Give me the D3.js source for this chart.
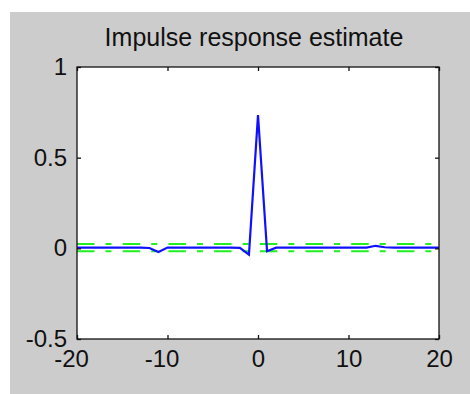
<!DOCTYPE html>
<html>
<head>
<meta charset="utf-8">
<script src="https://cdn.jsdelivr.net/npm/d3@7/dist/d3.min.js"></script>
<style>
  html, body { margin: 0; padding: 0; background: #ffffff; }
  svg { display: block; }
  text { font-family: "Liberation Sans", Arial, sans-serif; fill: #111; }
</style>
</head>
<body>
<script>
// ---- data ----
const titleText = "Impulse response estimate";
const lags = [-20,-19,-18,-17,-16,-15,-14,-13,-12,-11,-10,-9,-8,-7,-6,-5,-4,-3,-2,-1,0,
              1,2,3,4,5,6,7,8,9,10,11,12,13,14,15,16,17,18,19,20];
const impulse = [0.004,0.004,0.004,0.004,0.004,0.004,0.004,0.004,0.002,-0.020,0.004,
                 0.004,0.004,0.004,0.004,0.004,0.004,0.004,0.003,-0.035,0.735,
                 -0.016,0.004,0.004,0.004,0.004,0.004,0.004,0.004,0.004,0.004,
                 0.004,0.004,0.014,0.006,0.004,0.004,0.004,0.004,0.004,0.004];
const confUpper = 0.024;
const confLower = -0.016;
const xTicks = [-20, -10, 0, 10, 20];
const yTicks = [-0.5, 0, 0.5, 1];
const xDomain = [-20, 20];
const yDomain = [-0.5, 1];

// ---- layout ----
const W = 470, H = 394;
const svg = d3.select("body").append("svg").attr("width", W).attr("height", H);
svg.append("rect").attr("x", 10).attr("y", 12).attr("width", W - 10).attr("height", H - 12)
   .attr("fill", "#cccccc");

const plot = { left: 77, right: 439, top: 67, bottom: 339 };
const x = d3.scaleLinear().domain(xDomain).range([plot.left, plot.right]);
const y = d3.scaleLinear().domain(yDomain).range([plot.bottom, plot.top]);

svg.append("rect").attr("x", plot.left).attr("y", plot.top)
   .attr("width", plot.right - plot.left).attr("height", plot.bottom - plot.top)
   .attr("fill", "#ffffff");

// confidence lines
svg.append("clipPath").attr("id", "clip").append("rect")
   .attr("x", plot.left).attr("y", plot.top)
   .attr("width", plot.right - plot.left).attr("height", plot.bottom - plot.top);

[confUpper, confLower].forEach(v => {
  svg.append("line")
    .attr("x1", x(xDomain[0])).attr("x2", x(xDomain[1]))
    .attr("y1", y(v)).attr("y2", y(v))
    .attr("stroke", "#22ee22").attr("stroke-width", 2.2)
    .attr("stroke-dasharray", "17.5,11,6,11.2")
    .attr("clip-path", "url(#clip)");
});

// impulse line
const pts = lags.map((l, i) => [l, impulse[i]]);
svg.append("path").datum(pts)
  .attr("d", d3.line().x(d => x(d[0])).y(d => y(d[1])))
  .attr("fill", "none").attr("stroke", "#1010ff").attr("stroke-width", 2.2)
  .attr("stroke-linejoin", "miter");

// axes
const tickLen = 4;
const fontSize = 24;
const gB = svg.append("g").attr("transform", `translate(0,${plot.bottom})`)
  .call(d3.axisBottom(x).tickValues(xTicks).tickSizeInner(-tickLen).tickSizeOuter(0).tickFormat(d3.format("d")));
const gT = svg.append("g").attr("transform", `translate(0,${plot.top})`)
  .call(d3.axisTop(x).tickValues(xTicks).tickSizeInner(-tickLen).tickSizeOuter(0).tickFormat(""));
const gL = svg.append("g").attr("transform", `translate(${plot.left},0)`)
  .call(d3.axisLeft(y).tickValues(yTicks).tickSizeInner(-tickLen).tickSizeOuter(0).tickFormat(d3.format("")));
const gR = svg.append("g").attr("transform", `translate(${plot.right},0)`)
  .call(d3.axisRight(y).tickValues(yTicks).tickSizeInner(-tickLen).tickSizeOuter(0).tickFormat(""));

[gB, gT, gL, gR].forEach(g => {
  g.select(".domain").remove();
  g.selectAll(".tick line").attr("stroke", "#111").attr("stroke-width", 1.3);
  g.selectAll("text").style("font-family", '"Liberation Sans", Arial, sans-serif')
    .style("font-size", fontSize + "px").attr("fill", "#111");
});

gB.selectAll(".tick text")
  .attr("y", 0).attr("dy", null)
  .attr("transform", "translate(0,28)")
  .attr("x", d => d < 0 ? -6 : 0)
  .text(d => d < 0 ? "-" + Math.abs(d) : String(d));

gL.selectAll(".tick text")
  .attr("x", -10).attr("dy", null).attr("y", 7.5)
  .text(d => d < 0 ? "-" + String(Math.abs(d)) : String(d));

// frame
svg.append("rect").attr("x", plot.left).attr("y", plot.top)
   .attr("width", plot.right - plot.left).attr("height", plot.bottom - plot.top)
   .attr("fill", "none").attr("stroke", "#111").attr("stroke-width", 1.3);

// title
svg.append("text").attr("x", 254).attr("y", 46)
   .attr("text-anchor", "middle").style("font-size", "25px")
   .text(titleText);
</script>
</body>
</html>
